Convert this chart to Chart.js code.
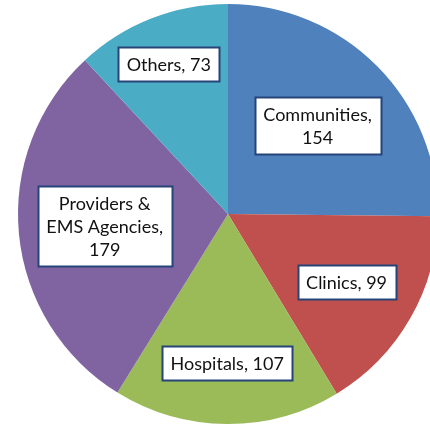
<!DOCTYPE html>
<html>
<head>
<meta charset="utf-8">
<script src="https://cdn.jsdelivr.net/npm/chart.js@4"></script>
<style>
  html, body { margin: 0; padding: 0; background: #fff; overflow: hidden; }
  #wrap { width: 430px; height: 425px; overflow: hidden; }
</style>
</head>
<body>
<div id="wrap"><canvas id="chart-pie" width="456" height="425"></canvas></div>
<script>
/* Pie chart — categories with counts, boxed data labels */

const categories = ['Communities', 'Clinics', 'Hospitals', 'Providers & EMS Agencies', 'Others'];
const counts = [154, 99, 107, 179, 73];
const labelLines = [
  ['Communities,', '154'],
  ['Clinics, 99'],
  ['Hospitals, 107'],
  ['Providers &', 'EMS Agencies,', '179'],
  ['Others, 73'],
];

const sliceColors = ['#4f81bd', '#c0504d', '#9bbb59', '#8064a2', '#4bacc6'];
// how far out along each slice's mid-angle its label box sits (fraction of radius)
const labelRadius = [0.60, 0.65, 0.71, 0.59, 0.77];

const boxLabels = {
  id: 'boxLabels',
  afterDatasetsDraw(chart) {
    const ctx = chart.ctx;
    const meta = chart.getDatasetMeta(0);
    ctx.save();
    ctx.font = '18px Lato, "Noto Sans", sans-serif';
    ctx.textAlign = 'center';
    ctx.textBaseline = 'middle';
    const lineH = 23;
    meta.data.forEach((arc, i) => {
      const p = arc.getProps(['x', 'y', 'startAngle', 'endAngle', 'outerRadius'], true);
      const mid = (p.startAngle + p.endAngle) / 2;
      const r = p.outerRadius * labelRadius[i];
      const cx = p.x + Math.cos(mid) * r;
      const cy = p.y + Math.sin(mid) * r;
      const lines = labelLines[i];
      const w = Math.round(Math.max(...lines.map(l => ctx.measureText(l).width)) + 17);
      const h = lines.length * lineH + 11;
      const x0 = Math.round(cx - w / 2) + 0.5;
      const y0 = Math.round(cy - h / 2) + 0.5;
      ctx.fillStyle = '#ffffff';
      ctx.fillRect(x0, y0, w, h);
      ctx.strokeStyle = '#264478';
      ctx.lineWidth = 2;
      ctx.strokeRect(x0, y0, w, h);
      ctx.fillStyle = '#111111';
      lines.forEach((l, k) => {
        ctx.fillText(l, cx, y0 + 6 + lineH * k + lineH / 2);
      });
    });
    ctx.restore();
  },
};

new Chart(document.getElementById('chart-pie'), {
  type: 'pie',
  data: {
    labels: categories,
    datasets: [{
      data: counts,
      backgroundColor: sliceColors,
      borderWidth: 0,
    }],
  },
  options: {
    responsive: false,
    animation: false,
    layout: { padding: { top: 4, bottom: 1, left: 0, right: 0 } },
    plugins: {
      legend: { display: false },
      tooltip: { enabled: false },
    },
  },
  plugins: [boxLabels],
});
</script>
</body>
</html>
